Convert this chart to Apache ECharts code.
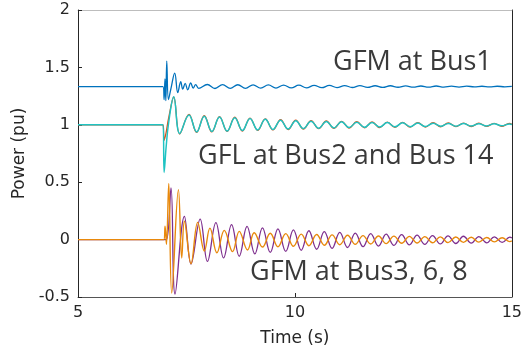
<!DOCTYPE html>
<html>
<head>
<meta charset="utf-8">
<script src="https://cdn.jsdelivr.net/npm/echarts@6/dist/echarts.min.js"></script>
<style>
  html, body { margin: 0; padding: 0; background: #fff; }
  #chart { width: 525px; height: 355px; }
</style>
</head>
<body>
<div id="chart"></div>
<script>
// axis ticks
const xTicks = [5, 10, 15]
const yTicks = [-0.5, 0, 0.5, 1, 1.5, 2]

// GFM at Bus1 (extrema of the oscillation)
const gfm1Time = [5, 6.96, 6.985, 7.005, 7.025, 7.046, 7.085, 7.14, 7.23, 7.30, 7.368, 7.414, 7.471, 7.529, 7.598, 7.655, 7.713, 7.782,
  7.981, 8.157, 8.333, 8.509, 8.684, 8.860, 9.036, 9.212, 9.388, 9.564, 9.739, 9.915, 10.091, 10.267, 10.443, 10.619, 10.794, 10.970,
  11.146, 11.322, 11.498, 11.674, 11.849, 12.025, 12.201, 12.377, 12.553, 12.728, 12.904, 13.080, 13.256, 13.432, 13.608, 13.783,
  13.959, 14.135, 14.311, 14.487, 14.663, 14.838, 15]
const gfm1Power = [1.333, 1.333, 1.22, 1.40, 1.21, 1.555, 1.22, 1.31, 1.45, 1.28, 1.375, 1.31, 1.36, 1.305, 1.365, 1.32, 1.35, 1.318,
  1.351, 1.316, 1.350, 1.317, 1.349, 1.318, 1.348, 1.319, 1.347, 1.320, 1.346, 1.321, 1.345, 1.322, 1.344, 1.323, 1.343, 1.324,
  1.342, 1.325, 1.341, 1.326, 1.340, 1.326, 1.340, 1.327, 1.339, 1.328, 1.338, 1.328, 1.338, 1.329, 1.337, 1.329,
  1.337, 1.330, 1.336, 1.330, 1.336, 1.331, 1.334]

// GFL at Bus2 and Bus14
const gflTime = [5, 6.96, 6.985, 7.03, 7.09, 7.207, 7.345, 7.559, 7.735, 7.910, 8.086, 8.262, 8.438, 8.614, 8.789, 8.965, 9.141,
  9.317, 9.493, 9.669, 9.844, 10.020, 10.196, 10.372, 10.548, 10.724, 10.899, 11.075, 11.251, 11.427, 11.603, 11.778, 11.954,
  12.130, 12.306, 12.482, 12.658, 12.833, 13.009, 13.185, 13.361, 13.537, 13.713, 13.888, 14.064, 14.240, 14.416, 14.592,
  14.768, 14.943, 15]
const gflBus2 = [1, 1, 0.865, 0.93, 1.06, 1.24, 0.92, 1.09, 0.934, 1.079, 0.938, 1.072, 0.942, 1.066, 0.946, 1.059, 0.951,
  1.052, 0.955, 1.044, 0.959, 1.040, 0.963, 1.036, 0.966, 1.033, 0.969, 1.030, 0.972, 1.027, 0.974, 1.025, 0.976,
  1.023, 0.978, 1.021, 0.980, 1.019, 0.981, 1.018, 0.983, 1.016, 0.984, 1.015, 0.985, 1.014, 0.986, 1.013,
  0.987, 1.012, 1.004]
const gflBus14 = [1, 1, 0.585, 0.80, 1.02, 1.245, 0.925, 1.085, 0.938, 1.075, 0.942, 1.068, 0.946, 1.062, 0.950, 1.055, 0.955,
  1.048, 0.959, 1.040, 0.963, 1.036, 0.967, 1.032, 0.970, 1.029, 0.973, 1.026, 0.976, 1.023, 0.978, 1.021, 0.980,
  1.019, 0.982, 1.017, 0.984, 1.015, 0.985, 1.014, 0.987, 1.012, 0.988, 1.011, 0.989, 1.010, 0.990, 1.009,
  0.991, 1.008, 1.003]

// GFM at Bus3, 6, 8
const gfmATime = [5, 6.96, 7.04, 7.144, 7.237, 7.453, 7.605, 7.816, 7.984, 8.179, 8.356, 8.540, 8.717, 8.897, 9.076, 9.253,
  9.432, 9.609, 9.789, 9.966, 10.145, 10.322, 10.501, 10.678, 10.857, 11.034, 11.214, 11.391, 11.570, 11.747, 11.926, 12.103,
  12.283, 12.460, 12.639, 12.816, 12.995, 13.172, 13.352, 13.529, 13.708, 13.885, 14.064, 14.241, 14.421, 14.598, 14.777,
  14.954, 15]
const gfmAPower = [0, 0, 0, 0.45, -0.474, 0.203, -0.213, 0.178, -0.19, 0.148, -0.16, 0.13, -0.145, 0.115, -0.125, 0.103,
  -0.112, 0.093, -0.103, 0.085, -0.093, 0.077, -0.084, 0.07, -0.076, 0.063, -0.069, 0.057, -0.062, 0.052, -0.056, 0.047,
  -0.051, 0.043, -0.046, 0.039, -0.042, 0.035, -0.038, 0.032, -0.034, 0.029, -0.031, 0.026, -0.028, 0.024, -0.025,
  0.022, 0.015]
const gfmBTime = [5, 6.977, 7.007, 7.039, 7.092, 7.161, 7.315, 7.391, 7.453, 7.605, 7.759, 7.913, 8.041, 8.202, 8.372, 8.563,
  8.717, 8.908, 9.062, 9.253, 9.432, 9.609, 9.789, 9.966, 10.145, 10.322, 10.501, 10.678, 10.857, 11.034, 11.214, 11.391,
  11.570, 11.747, 11.926, 12.103, 12.283, 12.460, 12.639, 12.816, 12.995, 13.172, 13.352, 13.529, 13.708, 13.885, 14.064,
  14.241, 14.421, 14.598, 14.777, 14.954, 15]
const gfmBPower = [0, 0, 0.116, -0.04, 0.49, -0.465, 0.435, -0.16, 0.16, -0.21, 0.15, -0.10, 0.10, -0.115, 0.08, -0.105,
  0.072, -0.09, 0.06, -0.065, 0.055, -0.062, 0.052, -0.058, 0.048, -0.053, 0.044, -0.049, 0.041, -0.045, 0.038, -0.041,
  0.035, -0.038, 0.032, -0.035, 0.030, -0.032, 0.028, -0.030, 0.026, -0.028, 0.024, -0.026, 0.022, -0.024, 0.020,
  -0.022, 0.018, -0.020, 0.016, -0.018, -0.012]

const labelGfm1 = 'GFM at Bus1'
const labelGfl = 'GFL at Bus2 and Bus 14'
const labelGfm = 'GFM at Bus3, 6, 8'

const zip = (ts, vs) => ts.map((t, i) => [t, vs[i]])

const chart = echarts.init(document.getElementById('chart'))

const axisFont = { fontFamily: 'DejaVu Sans', fontSize: 16, color: '#262626' }
const line = (name, color, width, data) => ({
  name,
  type: 'line',
  showSymbol: false,
  smooth: 0.4,
  lineStyle: { color, width },
  data
})
const note = (text, x, y) => ({
  type: 'text',
  x, y,
  style: { text, fontFamily: 'Open Sans', fontSize: 27, fill: '#3a3a3a', align: 'left', verticalAlign: 'middle' }
})

const option = {
  animation: false,
  grid: { left: 78, right: 12, top: 10, bottom: 58 },
  xAxis: [
    {
      type: 'value',
      min: xTicks[0],
      max: xTicks[xTicks.length - 1],
      interval: xTicks[1] - xTicks[0],
      position: 'bottom',
      name: 'Time (s)',
      nameLocation: 'middle',
      nameGap: 33,
      nameTextStyle: { fontFamily: 'DejaVu Sans', fontSize: 17, color: '#262626' },
      axisLine: { onZero: false, lineStyle: { color: '#555', width: 1 } },
      axisTick: { inside: true, length: 4, lineStyle: { color: '#262626' } },
      axisLabel: { ...axisFont, margin: 8 },
      splitLine: { show: false }
    },
    {
      type: 'value',
      min: xTicks[0],
      max: xTicks[xTicks.length - 1],
      position: 'top',
      axisLine: { onZero: false, lineStyle: { color: '#bdbdbd', width: 1 } },
      axisTick: { show: false },
      axisLabel: { show: false },
      splitLine: { show: false }
    }
  ],
  yAxis: [
    {
      type: 'value',
      min: yTicks[0],
      max: yTicks[yTicks.length - 1],
      interval: yTicks[1] - yTicks[0],
      position: 'left',
      name: 'Power (pu)',
      nameLocation: 'middle',
      nameGap: 48,
      nameTextStyle: { fontFamily: 'DejaVu Sans', fontSize: 17, color: '#262626' },
      axisLine: { show: true, onZero: false, lineStyle: { color: '#262626', width: 1 } },
      axisTick: { show: true, inside: true, length: 4, lineStyle: { color: '#262626' } },
      axisLabel: { ...axisFont, margin: 8 },
      splitLine: { show: false }
    },
    {
      type: 'value',
      min: yTicks[0],
      max: yTicks[yTicks.length - 1],
      position: 'right',
      axisLine: { show: true, onZero: false, lineStyle: { color: '#262626', width: 1 } },
      axisTick: { show: false },
      axisLabel: { show: false },
      splitLine: { show: false }
    }
  ],
  series: [
    line('GFL Bus2', '#D95319', 1.3, zip(gflTime, gflBus2)),
    line('GFL Bus14', '#1FC3C3', 1.5, zip(gflTime, gflBus14)),
    line('GFM Bus1', '#0072BD', 1.3, zip(gfm1Time, gfm1Power)),
    line('GFM Bus3', '#7E2F8E', 1.3, zip(gfmATime, gfmAPower)),
    line('GFM Bus6', '#E8890C', 1.4, zip(gfmBTime, gfmBPower))
  ],
  graphic: [
    note(labelGfm1, 333, 62),
    note(labelGfl, 198, 156),
    note(labelGfm, 250, 272)
  ]
}

chart.setOption(option)
</script>
</body>
</html>
